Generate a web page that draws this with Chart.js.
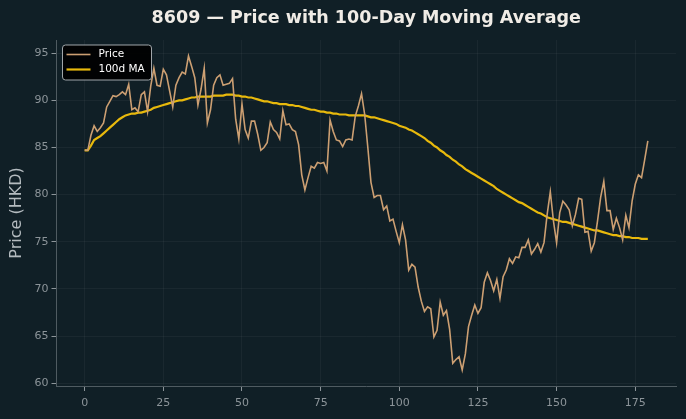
<!DOCTYPE html>
<html>
<head>
<meta charset="utf-8">
<script src="https://cdn.jsdelivr.net/npm/chart.js@4.4.1/dist/chart.umd.min.js"></script>
<style>
  html, body { margin: 0; padding: 0; background: #101f26; }
  #wrap { width: 686px; height: 419px; }
</style>
</head>
<body>
<div id="wrap"><canvas id="chart" width="686" height="419"></canvas></div>
<script>
const chartTitle = "8609 — Price with 100-Day Moving Average";
const yAxisTitle = "Price (HKD)";
const seriesLabels = ["Price", "100d MA"];
const xTicks = [0, 25, 50, 75, 100, 125, 150, 175];
const yTicks = [60, 65, 70, 75, 80, 85, 90, 95];

// daily close, day 0..179
const price = [
    84.7, 84.7, 86.3, 87.3, 86.7, 87.1, 87.6, 89.3, 89.9, 90.5,
    90.4, 90.6, 90.9, 90.6, 91.7, 89.0, 89.2, 88.8, 90.6, 90.9,
    88.8, 91.5, 93.4, 91.6, 91.5, 93.3, 92.7, 91.0, 89.3, 91.6,
    92.4, 93.0, 92.8, 94.7, 93.6, 92.4, 89.5, 91.2, 93.4, 87.6,
    89.0, 91.6, 92.4, 92.7, 91.6, 91.7, 91.8, 92.3, 88.0, 85.9,
    89.6, 86.9, 86.0, 87.8, 87.8, 86.4, 84.7, 85.0, 85.5, 87.7,
    86.9, 86.6, 85.9, 88.9, 87.4, 87.5, 86.9, 86.7, 85.3, 82.1,
    80.5, 81.8, 83.0, 82.8, 83.4, 83.3, 83.4, 82.5, 87.9, 86.7,
    85.8, 85.7, 85.1, 85.8, 85.9, 85.8, 88.3, 89.4, 90.7, 88.5,
    85.0, 81.3, 79.7, 79.9, 79.9, 78.4, 78.8, 77.2, 77.4, 76.1,
    74.9, 76.8, 75.2, 72.0, 72.6, 72.3, 70.2, 68.7, 67.6, 68.1,
    67.9, 64.9, 65.6, 68.6, 67.2, 67.7, 65.7, 62.1, 62.5, 62.8,
    61.4, 63.1, 66.0, 67.2, 68.3, 67.4, 68.0, 70.7, 71.7, 70.9,
    69.8, 71.0, 69.0, 71.3, 72.0, 73.2, 72.7, 73.4, 73.3, 74.4,
    74.4, 75.2, 73.7, 74.2, 74.8, 73.9, 74.9, 77.9, 80.3, 77.2,
    74.9, 78.1, 79.3, 78.9, 78.4, 76.7, 77.9, 79.6, 79.5, 76.0,
    76.1, 74.0, 74.9, 77.2, 79.7, 81.4, 78.3, 78.3, 76.3, 77.5,
    76.5, 75.2, 77.8, 76.5, 79.3, 81.1, 82.1, 81.8, 83.7, 85.7
];

// 100-day moving average as plotted
const ma100 = [
    84.7, 84.7, 85.2, 85.8, 86.0, 86.2, 86.5, 86.8, 87.1, 87.4,
    87.7, 88.0, 88.2, 88.4, 88.5, 88.6, 88.6, 88.7, 88.7, 88.8,
    88.9, 89.0, 89.2, 89.3, 89.4, 89.5, 89.6, 89.7, 89.8, 89.9,
    90.0, 90.0, 90.1, 90.2, 90.3, 90.3, 90.4, 90.4, 90.4, 90.4,
    90.4, 90.5, 90.5, 90.5, 90.5, 90.6, 90.6, 90.6, 90.5, 90.5,
    90.4, 90.4, 90.3, 90.3, 90.2, 90.1, 90.0, 89.9, 89.9, 89.8,
    89.7, 89.7, 89.6, 89.6, 89.6, 89.5, 89.5, 89.4, 89.4, 89.3,
    89.2, 89.1, 89.0, 89.0, 88.9, 88.8, 88.8, 88.7, 88.7, 88.6,
    88.6, 88.5, 88.5, 88.5, 88.4, 88.4, 88.4, 88.4, 88.4, 88.4,
    88.3, 88.2, 88.2, 88.1, 88.0, 87.9, 87.8, 87.7, 87.6, 87.5,
    87.3, 87.2, 87.1, 86.9, 86.8, 86.6, 86.4, 86.2, 86.0, 85.7,
    85.5, 85.2, 85.0, 84.7, 84.5, 84.2, 84.0, 83.7, 83.5, 83.2,
    83.0, 82.7, 82.5, 82.3, 82.1, 81.9, 81.7, 81.5, 81.3, 81.1,
    80.9, 80.6, 80.4, 80.2, 80.0, 79.8, 79.6, 79.4, 79.2, 79.1,
    78.9, 78.7, 78.5, 78.3, 78.1, 78.0, 77.8, 77.6, 77.5, 77.4,
    77.3, 77.2, 77.1, 77.1, 77.0, 76.9, 76.8, 76.7, 76.6, 76.5,
    76.4, 76.3, 76.2, 76.2, 76.1, 76.0, 75.9, 75.8, 75.7, 75.7,
    75.6, 75.6, 75.5, 75.5, 75.4, 75.4, 75.4, 75.3, 75.3, 75.3
];

const BG = "#101f26";
const PRICE_COLOR = "#cc9f72";
const MA_COLOR = "#e8b90c";
const TICK_COLOR = "#8c9499";
const FONT = "'DejaVu Sans', sans-serif";

const toXY = (arr) => arr.map((v, i) => ({ x: i, y: v }));

// background + title + boxed legend like the original
const decorPlugin = {
    id: "decor",
    beforeDraw(chart) {
        const ctx = chart.ctx;
        ctx.save();
        ctx.fillStyle = BG;
        ctx.fillRect(0, 0, chart.width, chart.height);
        ctx.restore();
    },
    afterDraw(chart) {
        const ctx = chart.ctx;
        const area = chart.chartArea;
        ctx.save();
        ctx.fillStyle = "#f0ece6";
        ctx.font = "bold 17.5px " + FONT;
        ctx.textAlign = "center";
        ctx.textBaseline = "middle";
        ctx.fillText(chartTitle, (area.left + area.right) / 2, 18.5);

        // legend box
        const bx = area.left + 6, by = area.top + 5, bw = 89, bh = 35;
        ctx.beginPath();
        ctx.roundRect(bx, by, bw, bh, 3);
        ctx.fillStyle = "rgba(0,0,0,0.92)";
        ctx.fill();
        ctx.strokeStyle = "#a0a6aa";
        ctx.lineWidth = 1;
        ctx.stroke();

        const items = chart.data.datasets;
        ctx.font = "10.5px " + FONT;
        ctx.textAlign = "left";
        items.forEach((ds, k) => {
            const ly = by + 9.5 + k * 15;
            ctx.beginPath();
            ctx.moveTo(bx + 4, ly);
            ctx.lineTo(bx + 28, ly);
            ctx.strokeStyle = ds.borderColor;
            ctx.lineWidth = ds.borderWidth;
            ctx.stroke();
            ctx.fillStyle = "#ffffff";
            ctx.fillText(ds.label, bx + 36, ly);
        });
        ctx.restore();
    }
};

const setTicks = (values) => (scale) => {
    scale.ticks = values.map((v) => ({ value: v }));
};

new Chart(document.getElementById("chart"), {
    type: "line",
    data: {
        datasets: [
            {
                label: seriesLabels[0],
                data: toXY(price),
                borderColor: PRICE_COLOR,
                borderWidth: 1.6,
                pointRadius: 0,
                tension: 0,
            },
            {
                label: seriesLabels[1],
                data: toXY(ma100),
                borderColor: MA_COLOR,
                borderWidth: 2.2,
                pointRadius: 0,
                tension: 0,
            },
        ],
    },
    options: {
        responsive: false,
        animation: false,
        devicePixelRatio: 1,
        layout: { padding: { top: 40, right: 10, left: 0, bottom: 0 } },
        plugins: {
            legend: { display: false },
            title: { display: false },
            tooltip: { enabled: false },
        },
        scales: {
            x: {
                type: "linear",
                min: -8.95,
                max: 187.95,
                afterBuildTicks: setTicks(xTicks),
                afterFit: (scale) => { scale.height = 33; },
                grid: {
                    color: "rgba(255,255,255,0.045)",
                    tickColor: TICK_COLOR,
                    tickLength: 5,
                    drawTicks: true,
                },
                border: { color: "#4f5b61", width: 1 },
                ticks: {
                    color: TICK_COLOR,
                    font: { family: FONT, size: 11 },
                    padding: 6,
                    maxRotation: 0,
                },
            },
            y: {
                type: "linear",
                min: 59.7,
                max: 96.4,
                afterBuildTicks: setTicks(yTicks),
                afterFit: (scale) => { scale.width = 56.5; },
                grid: {
                    color: "rgba(255,255,255,0.045)",
                    tickColor: TICK_COLOR,
                    tickLength: 5,
                    drawTicks: true,
                },
                border: { color: "#4f5b61", width: 1 },
                ticks: {
                    color: TICK_COLOR,
                    font: { family: FONT, size: 11 },
                    padding: 3,
                },
                title: {
                    display: true,
                    text: yAxisTitle,
                    color: "#b4bbbf",
                    font: { family: FONT, size: 16 },
                    padding: { top: 7, bottom: 0 },
                },
            },
        },
    },
    plugins: [decorPlugin],
});
</script>
</body>
</html>
